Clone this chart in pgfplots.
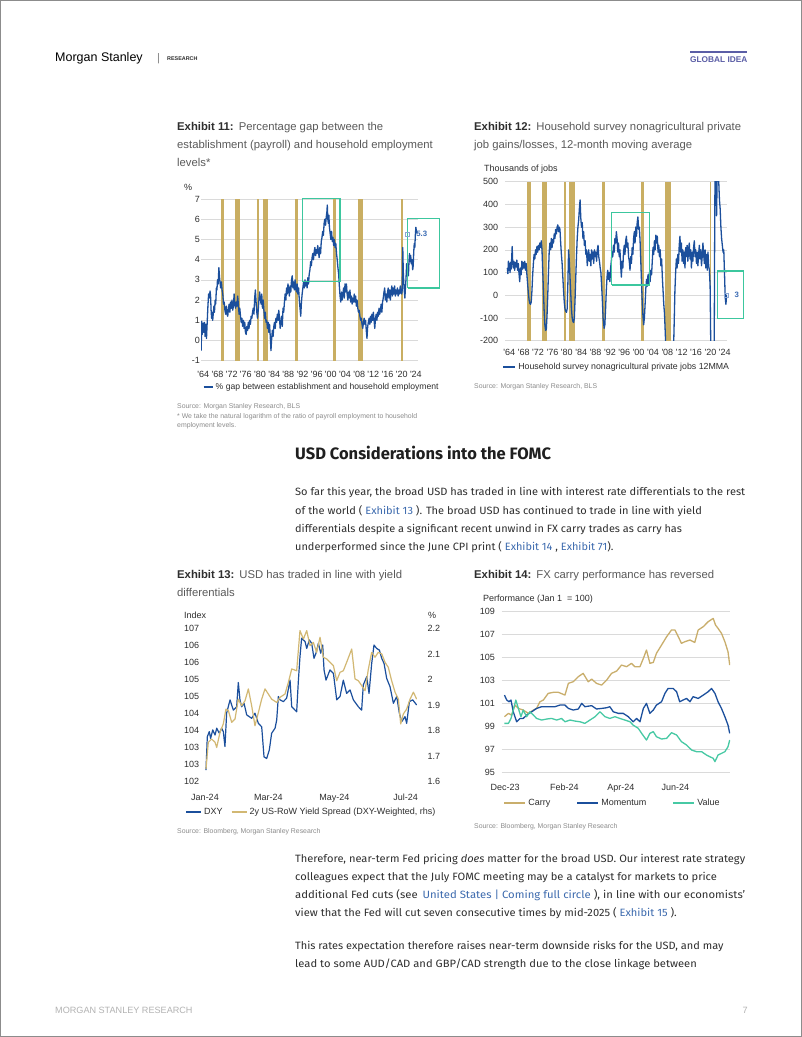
\documentclass[border=0pt]{standalone}
\usepackage{pgfplots}
\pgfplotsset{compat=1.18}
\usepackage{fontspec}
\usepackage{graphicx}
\setmainfont{Fira Sans}
\newfontfamily\cf{Liberation Sans}
\newcommand\fs[1]{\fontsize{#1pt}{#1pt}\selectfont}
\definecolor{msblue}{HTML}{1B4F9C}
\definecolor{msgold}{HTML}{C9AE62}
\definecolor{carry}{HTML}{C9AE6C}
\definecolor{spread}{HTML}{D2B873}
\definecolor{msteal}{HTML}{3CC79E}
\definecolor{valuec}{HTML}{47C9A4}
\definecolor{gridc}{HTML}{DADADA}
\definecolor{txt}{HTML}{2E2E2E}
\definecolor{ttl}{HTML}{5A5A5A}
\definecolor{link}{HTML}{3C6AAE}
\definecolor{src}{HTML}{8C8C8C}
\definecolor{gidea}{HTML}{5B5EA6}
\definecolor{lbl}{HTML}{3D6DB5}
\newcommand\lk[1]{\textcolor{link}{#1}}
\newcommand\fitline[4]{\node[anchor=base west,inner sep=0pt,text=txt,font=\fs{10.6}] at (#1pt,-#2pt) {\resizebox{#3pt}{\height}{#4}};}
\newcommand\ttlnode[4]{\node[anchor=base west,inner sep=0pt,font=\cf\fs{11.3}] at (#1pt,-#2pt) {\textcolor{txt}{\textbf{#3}}\hspace{0.45em}\textcolor{ttl}{#4}};}
\newcommand\ttlcont[3]{\node[anchor=base west,inner sep=0pt,font=\cf\fs{11.3},text=ttl] at (#1pt,-#2pt) {#3};}
\newcommand\srcnode[3]{\node[anchor=base west,inner sep=0pt,font=\cf\fs{6.9},text=src] at (#1pt,-#2pt) {#3};}
\pgfplotsset{
  ms/.style={scale only axis, anchor=south west,
    axis x line*=bottom, axis y line*=left, axis line style={draw=none},
    major tick length=0pt, tick style={draw=none},
    ticklabel style={font=\cf\fs{9}, text=txt, inner sep=0pt},
    xticklabel style={anchor=base}, yticklabel style={anchor=east},
    grid style={draw=gridc, line width=0.6pt},
    legend style={draw=none, fill=none, inner sep=0pt, outer sep=0pt,
      font=\cf\fs{9}, text=txt, anchor=west},
    legend cell align=left},
  ov/.style={scale only axis, anchor=south west, hide axis, clip=false},
}
\begin{document}
\begin{tikzpicture}
\path[use as bounding box] (0,0) rectangle (802pt,-1037pt);
\fill[white] (0,0) rectangle (802pt,-1037pt);
\draw[black!45, line width=0.8pt] (0.4pt,-0.4pt) rectangle (801.6pt,-1036.6pt);
% header
\node[anchor=base west,inner sep=0pt,font=\cf\fs{12.5}] at (55pt,-61.5pt) {Morgan Stanley};
\node[anchor=base west,inner sep=0pt,font=\cf\fs{11},text=black!50] at (157pt,-61.5pt) {|};
\node[anchor=base west,inner sep=0pt,font=\cf\bfseries\fs{5.4},text=txt] at (167pt,-60pt) {RESEARCH};
\draw[gidea, line width=2pt] (690pt,-52pt) -- (747pt,-52pt);
\node[anchor=base west,inner sep=0pt,font=\cf\bfseries\fs{8.3},text=gidea] at (690pt,-62pt) {GLOBAL IDEA};
% footer
\node[anchor=base west,inner sep=0pt,font=\cf\fs{9.1},text=black!30] at (55pt,-1013.5pt) {MORGAN STANLEY RESEARCH};
\node[anchor=base east,inner sep=0pt,font=\cf\fs{9.1},text=black!30] at (748pt,-1013.5pt) {7};
% titles
\ttlnode{177}{130}{Exhibit 11:}{Percentage gap between the}
\ttlcont{177}{148}{establishment (payroll) and household employment}
\ttlcont{177}{166}{levels*}
\ttlnode{474}{130}{Exhibit 12:}{Household survey nonagricultural private}
\ttlcont{474}{148}{job gains/losses, 12-month moving average}
\ttlnode{177}{578}{Exhibit 13:}{USD has traded in line with yield}
\ttlcont{177}{596}{differentials}
\ttlnode{474}{578}{Exhibit 14:}{FX carry performance has reversed}
% sources
\srcnode{177}{408.5}{Source: Morgan Stanley Research, BLS}
\srcnode{177}{418.5}{* We take the natural logarithm of the ratio of payroll employment to household}
\srcnode{177}{427}{employment levels.}
\srcnode{474}{388.5}{Source: Morgan Stanley Research, BLS}
\srcnode{177}{833.5}{Source: Bloomberg, Morgan Stanley Research}
\srcnode{474}{828.5}{Source: Bloomberg, Morgan Stanley Research}
% heading and body
\node[anchor=base west,inner sep=0pt,font=\bfseries\fs{16.5},text=black!88] at (295pt,-459pt) {USD Considerations into the FOMC};
\fitline{295}{495.5}{450}{So far this year, the broad USD has traded in line with interest rate differentials to the rest}
\fitline{295}{514}{406.7}{of the world ( \lk{Exhibit 13} ). The broad USD has continued to trade in line with yield}
\fitline{295}{532}{386.7}{differentials despite a significant recent unwind in FX carry trades as carry has}
\fitline{295}{550.5}{318.3}{underperformed since the June CPI print ( \lk{Exhibit 14} , \lk{Exhibit 71}).}
\fitline{295}{862}{450}{Therefore, near-term Fed pricing \textit{does} matter for the broad USD. Our interest rate strategy}
\fitline{295}{880}{421.7}{colleagues expect that the July FOMC meeting may be a catalyst for markets to price}
\fitline{295}{898}{450}{additional Fed cuts (see \,\lk{United States | Coming full circle} ), in line with our economists'}
\fitline{295}{916.5}{381.7}{view that the Fed will cut seven consecutive times by mid-2025 ( \lk{Exhibit 15} ).}
\fitline{295}{949.5}{428.3}{This rates expectation therefore raises near-term downside risks for the USD, and may}
\fitline{295}{967.5}{401.7}{lead to some AUD/CAD and GBP/CAD strength due to the close linkage between}
% axis label texts
\node[anchor=base west,inner sep=0pt,font=\cf\fs{9},text=txt] at (184pt,-190pt) {\%};
\node[anchor=base west,inner sep=0pt,font=\cf\fs{9},text=txt] at (484pt,-171pt) {Thousands of jobs};
\node[anchor=base west,inner sep=0pt,font=\cf\fs{9},text=txt] at (184pt,-618.5pt) {Index};
\node[anchor=base west,inner sep=0pt,font=\cf\fs{9},text=txt] at (428pt,-618.5pt) {\%};
\node[anchor=base west,inner sep=0pt,font=\cf\fs{9},text=txt] at (483pt,-601pt) {Performance (Jan 1 \ = 100)};

%================ Exhibit 11
\begin{axis}[ms, at={(201pt,-360.7pt)}, width=217pt, height=161.7pt,
  xmin=1963.35, xmax=2024.6, ymin=-1, ymax=7, ymajorgrids,
  ytick={-1,0,1,2,3,4,5,6,7}, yticklabels={-1,0,1,2,3,4,5,6,7},
  yticklabel style={xshift=-1pt},
  xtick={1964,1968,...,2024},
  xticklabels={'64,'68,'72,'76,'80,'84,'88,'92,'96,'00,'04,'08,'12,'16,'20,'24},
  xticklabel style={yshift=-16.9pt},
  legend style={at={(axis description cs:0.008,-0.1645)}, font=\cf\fs{8.6}},
  legend image code/.code={\draw[#1, line width=2pt] (0pt,0pt) -- (9pt,0pt);}]
\fill[msgold] (axis cs:1968.89,-1) rectangle (axis cs:1969.93,7);
\fill[msgold] (axis cs:1972.94,-1) rectangle (axis cs:1974.35,7);
\fill[msgold] (axis cs:1979.24,-1) rectangle (axis cs:1979.80,7);
\fill[msgold] (axis cs:1980.84,-1) rectangle (axis cs:1982.16,7);
\fill[msgold] (axis cs:1989.87,-1) rectangle (axis cs:1990.62,7);
\fill[msgold] (axis cs:2000.69,-1) rectangle (axis cs:2001.44,7);
\fill[msgold] (axis cs:2007.56,-1) rectangle (axis cs:2009.16,7);
\fill[msgold] (axis cs:2019.79,-1) rectangle (axis cs:2020.26,7);
\addplot[msblue, line width=1.3pt, line join=round] table {
1963.4 -0.5
1963.55 0.95
1963.7 0.3
1963.9 0.85
1964.1 0.4
1964.3 0.9
1964.5 0.2
1964.7 0.8
1964.9 0.1
1965.1 0.9
1965.3 1.7
1965.5 2.3
1965.7 2.1
1965.9 2.45
1966.05 2.2
1966.2 1.5
1966.35 1.1
1966.5 1.4
1966.65 1.0
1966.8 1.3
1967.0 1.7
1967.15 1.4
1967.35 2.0
1967.5 1.8
1967.7 2.6
1967.85 2.5
1968.0 3.0
1968.2 2.8
1968.4 3.6
1968.55 3.2
1968.7 2.9
1968.9 2.6
1969.1 2.9
1969.3 2.5
1969.5 2.3
1969.7 1.8
1969.9 1.9
1970.1 1.5
1970.3 1.3
1970.5 1.7
1970.7 1.3
1970.9 1.2
1971.1 1.6
1971.3 1.8
1971.5 1.4
1971.7 1.9
1971.9 1.6
1972.1 2.0
1972.3 1.5
1972.5 1.7
1972.7 2.3
1972.9 1.8
1973.1 1.6
1973.3 1.9
1973.5 1.7
1973.7 2.2
1973.9 1.8
1974.1 1.3
1974.3 1.6
1974.5 1.2
1974.7 0.9
1974.9 1.1
1975.1 0.7
1975.3 1.0
1975.5 0.6
1975.7 0.9
1975.9 0.4
1976.1 0.3
1976.3 0.7
1976.5 0.5
1976.7 0.9
1976.9 0.6
1977.1 1.0
1977.3 0.8
1977.5 1.2
1977.7 1.1
1977.9 1.4
1978.1 1.6
1978.3 1.3
1978.5 2.1
1978.7 2.5
1978.9 1.9
1979.1 1.4
1979.3 1.1
1979.5 1.5
1979.7 2.0
1979.9 2.4
1980.1 2.1
1980.3 1.8
1980.5 2.3
1980.7 1.6
1980.9 2.0
1981.1 1.5
1981.3 1.1
1981.5 1.4
1981.7 0.9
1981.9 1.0
1982.1 0.6
1982.3 0.9
1982.5 0.4
1982.7 0.8
1982.9 0.2
1983.1 -0.5
1983.3 0.1
1983.5 0.5
1983.7 0.2
1983.9 0.7
1984.1 0.9
1984.3 0.6
1984.5 1.1
1984.7 0.9
1984.9 1.3
1985.1 1.0
1985.3 1.5
1985.5 1.1
1985.7 0.6
1985.9 0.9
1986.1 1.2
1986.3 0.7
1986.5 1.6
1986.7 1.4
1986.9 1.9
1987.1 2.3
1987.3 2.0
1987.5 2.6
1987.7 2.3
1987.9 2.8
1988.1 2.5
1988.3 2.2
1988.5 2.7
1988.7 2.4
1988.9 3.0
1989.1 3.2
1989.3 2.6
1989.5 2.9
1989.7 2.5
1989.9 3.0
1990.1 2.6
1990.3 2.4
1990.5 2.8
1990.7 2.3
1990.9 2.6
1991.1 2.0
1991.3 1.6
1991.5 1.2
1991.7 1.9
1991.9 2.3
1992.1 2.6
1992.3 2.9
1992.5 2.6
1992.7 3.0
1992.9 2.7
1993.1 2.9
1993.3 2.6
1993.5 3.1
1993.7 2.8
1993.9 3.3
1994.1 3.5
1994.3 3.9
1994.5 3.7
1994.7 4.1
1994.9 4.3
1995.1 4.0
1995.3 4.4
1995.5 4.6
1995.7 4.2
1995.9 4.5
1996.1 4.3
1996.3 4.7
1996.5 4.4
1996.7 4.1
1996.9 4.6
1997.1 4.3
1997.3 4.9
1997.5 5.1
1997.7 5.4
1997.9 5.2
1998.1 5.8
1998.3 6.0
1998.5 5.7
1998.7 6.1
1998.9 6.4
1999.0 6.7
1999.15 6.0
1999.3 5.8
1999.45 6.2
1999.6 5.6
1999.8 5.3
2000.0 5.0
2000.2 5.4
2000.4 4.9
2000.6 5.1
2000.8 4.7
2001.0 5.0
2001.2 4.6
2001.4 4.8
2001.6 4.3
2001.8 4.0
2002.0 3.6
2002.2 3.3
2002.4 2.7
2002.6 2.2
2002.8 1.9
2003.0 2.4
2003.2 2.0
2003.4 2.3
2003.6 2.6
2003.8 2.1
2004.0 2.8
2004.2 2.4
2004.4 2.8
2004.6 2.3
2004.8 2.0
2005.0 2.4
2005.2 2.1
2005.4 2.5
2005.6 1.9
2005.8 2.2
2006.0 1.8
2006.2 2.1
2006.4 1.9
2006.6 2.3
2006.8 1.9
2007.0 2.2
2007.2 1.7
2007.4 2.0
2007.6 1.6
2007.8 1.4
2008.0 1.5
2008.2 1.2
2008.4 1.0
2008.6 1.1
2008.8 0.8
2009.0 0.6
2009.2 0.9
2009.4 1.1
2009.6 0.8
2009.8 1.0
2010.0 0.5
2010.2 0.1
2010.4 0.7
2010.6 0.9
2010.8 1.1
2011.0 0.8
2011.2 1.2
2011.4 0.9
2011.6 1.3
2011.8 1.0
2012.0 1.4
2012.2 1.0
2012.4 0.6
2012.6 1.1
2012.8 1.3
2013.0 1.0
2013.2 1.4
2013.4 1.2
2013.6 1.6
2013.8 1.3
2014.0 1.5
2014.2 1.8
2014.4 1.4
2014.6 1.9
2014.8 2.1
2015.0 2.4
2015.2 2.6
2015.4 2.0
2015.6 2.3
2015.8 1.9
2016.0 2.4
2016.2 2.6
2016.4 2.1
2016.6 2.5
2016.8 2.0
2017.0 2.4
2017.2 2.7
2017.4 2.2
2017.6 2.6
2017.8 2.3
2018.0 2.7
2018.2 2.2
2018.4 2.5
2018.6 2.3
2018.8 2.6
2019.0 2.2
2019.2 2.5
2019.4 2.3
2019.6 2.7
2019.8 2.4
2020.0 2.3
2020.15 2.5
2020.3 4.6
2020.45 3.4
2020.6 2.8
2020.75 2.4
2020.9 2.1
2021.05 2.6
2021.2 3.0
2021.4 3.8
2021.55 3.3
2021.7 3.6
2021.9 3.2
2022.05 3.9
2022.2 4.3
2022.4 3.9
2022.55 4.2
2022.7 3.8
2022.9 4.0
2023.1 3.5
2023.25 3.7
2023.4 4.4
2023.55 4.8
2023.7 4.6
2023.85 5.2
2024.0 5.6
2024.15 5.4
2024.3 5.3
};
\addlegendentry{\% gap between establishment and household employment}
\end{axis}
\begin{axis}[ov, at={(201pt,-360.7pt)}, width=217pt, height=161.7pt,
  xmin=1963.35, xmax=2024.6, ymin=-1, ymax=7]
\addplot[msteal, line width=1.2pt] coordinates {(1991.94,2.93) (2002.57,2.93) (2002.57,7.02) (1991.94,7.02) (1991.94,2.93)};
\addplot[msteal, line width=1.2pt] coordinates {(2021.67,2.6) (2030.6,2.6) (2030.6,6.02) (2021.67,6.02) (2021.67,2.6)};
\addplot[only marks, mark=square, mark size=2pt, mark options={draw=lbl!60, line width=0.5pt}] coordinates {(2021.55,5.27)}
  node[anchor=west, font=\cf\bfseries\fs{7.8}, text=lbl, inner sep=0pt, xshift=9pt] {5.3};
\end{axis}

%================ Exhibit 12
\begin{axis}[ms, at={(505pt,-340.7pt)}, width=222pt, height=159pt,
  xmin=1962.8, xmax=2024.6, ymin=-200, ymax=500, ymajorgrids,
  ytick={-200,-100,0,100,200,300,400,500}, yticklabels={-200,-100,0,100,200,300,400,500},
  yticklabel style={xshift=-6.7pt},
  xtick={1964,1968,...,2024},
  xticklabels={'64,'68,'72,'76,'80,'84,'88,'92,'96,'00,'04,'08,'12,'16,'20,'24},
  xticklabel style={yshift=-14.3pt},
  legend style={at={(axis description cs:-0.012,-0.167)}, font=\cf\fs{8.8}},
  legend image code/.code={\draw[#1, line width=2pt] (0pt,0pt) -- (12pt,0pt);}]
\fill[msgold] (axis cs:1969.0,-200) rectangle (axis cs:1970.0,500);
\fill[msgold] (axis cs:1973.0,-200) rectangle (axis cs:1974.4,500);
\fill[msgold] (axis cs:1979.2,-200) rectangle (axis cs:1979.8,500);
\fill[msgold] (axis cs:1980.7,-200) rectangle (axis cs:1982.2,500);
\fill[msgold] (axis cs:1989.9,-200) rectangle (axis cs:1990.6,500);
\fill[msgold] (axis cs:2000.6,-200) rectangle (axis cs:2001.5,500);
\fill[msgold] (axis cs:2007.3,-200) rectangle (axis cs:2009.0,500);
\fill[msgold] (axis cs:2019.8,-200) rectangle (axis cs:2020.2,500);
\addplot[msblue, line width=1.3pt, line join=round] table {
1963.45 120
1963.6 95
1963.75 150
1963.9 110
1964.05 140
1964.2 100
1964.35 145
1964.5 115
1964.65 160
1964.8 215
1964.95 140
1965.1 120
1965.3 150
1965.5 110
1965.7 145
1965.9 125
1966.1 155
1966.3 110
1966.5 140
1966.7 95
1966.9 60
1967.1 120
1967.3 90
1967.5 150
1967.7 115
1967.9 145
1968.1 120
1968.3 150
1968.5 110
1968.7 140
1968.9 90
1969.1 50
1969.3 10
1969.5 -20
1969.7 -35
1969.9 -40
1970.1 -30
1970.3 20
1970.5 90
1970.7 140
1970.9 180
1971.1 160
1971.3 200
1971.5 180
1971.7 215
1971.9 190
1972.1 220
1972.3 200
1972.5 230
1972.7 210
1972.9 240
1973.1 200
1973.3 110
1973.5 20
1973.7 -70
1973.9 -130
1974.1 -155
1974.3 -150
1974.5 -90
1974.7 0
1974.9 100
1975.1 190
1975.3 230
1975.5 200
1975.7 250
1975.9 210
1976.1 245
1976.3 230
1976.5 270
1976.7 250
1976.9 290
1977.1 270
1977.3 300
1977.5 310
1977.7 280
1977.9 300
1978.1 290
1978.3 230
1978.5 180
1978.7 140
1978.9 80
1979.1 20
1979.3 -30
1979.5 -60
1979.7 -70
1979.9 -75
1980.1 -60
1980.3 50
1980.5 200
1980.7 150
1980.9 80
1981.1 10
1981.3 -60
1981.5 -100
1981.7 -115
1981.9 -120
1982.1 -100
1982.3 -20
1982.5 80
1982.7 170
1982.9 250
1983.1 300
1983.3 330
1983.5 380
1983.7 420
1983.9 340
1984.1 300
1984.3 320
1984.5 250
1984.7 280
1984.9 220
1985.1 240
1985.3 180
1985.5 200
1985.7 130
1985.9 170
1986.1 200
1986.3 150
1986.5 180
1986.7 130
1986.9 200
1987.1 160
1987.3 190
1987.5 140
1987.7 200
1987.9 170
1988.1 190
1988.3 150
1988.5 200
1988.7 220
1988.9 170
1989.1 150
1989.3 120
1989.5 100
1989.7 40
1989.9 -20
1990.1 -100
1990.4 -145
1990.6 -130
1990.8 -60
1991.0 20
1991.2 80
1991.4 110
1991.6 70
1991.8 100
1992.0 60
1992.2 120
1992.4 150
1992.6 190
1992.8 170
1993.0 220
1993.2 190
1993.4 250
1993.6 230
1993.8 280
1994.0 250
1994.2 190
1994.4 230
1994.6 170
1994.8 200
1995.0 130
1995.2 80
1995.4 150
1995.6 120
1995.8 190
1996.0 220
1996.2 180
1996.4 240
1996.6 260
1996.8 210
1997.0 230
1997.2 170
1997.4 150
1997.6 110
1997.8 170
1998.0 140
1998.2 210
1998.4 180
1998.6 250
1998.8 280
1999.0 230
1999.2 300
1999.4 260
1999.6 320
1999.8 345
2000.0 290
2000.2 300
2000.4 240
2000.6 150
2000.8 60
2001.0 -30
2001.2 -90
2001.4 -130
2001.6 -100
2001.8 -40
2002.0 30
2002.2 70
2002.4 40
2002.6 90
2002.8 50
2003.0 100
2003.2 60
2003.4 110
2003.6 90
2003.8 150
2004.0 210
2004.2 180
2004.4 240
2004.6 200
2004.8 265
2005.0 230
2005.2 260
2005.4 190
2005.6 220
2005.8 170
2006.0 200
2006.2 130
2006.4 160
2006.6 80
2006.8 20
2007.0 -40
2007.2 -80
2007.4 -160
2007.6 -240
2007.8 -350
2008.2 -480
2008.6 -600
2009.0 -550
2009.4 -400
2009.7 -250
2009.9 -120
2010.1 20
2010.3 100
2010.5 160
2010.7 120
2010.9 180
2011.1 140
2011.3 220
2011.5 260
2011.7 190
2011.9 230
2012.1 150
2012.3 200
2012.5 140
2012.7 190
2012.9 120
2013.1 210
2013.3 170
2013.5 220
2013.7 150
2013.9 200
2014.1 230
2014.3 160
2014.5 200
2014.7 120
2014.9 190
2015.1 150
2015.3 210
2015.5 240
2015.7 170
2015.9 200
2016.1 140
2016.3 190
2016.5 130
2016.7 180
2016.9 220
2017.1 160
2017.3 200
2017.5 130
2017.7 170
2017.9 230
2018.1 180
2018.3 140
2018.5 200
2018.7 120
2018.9 180
2019.1 110
2019.3 190
2019.5 130
2019.7 110
2019.9 40
2020.1 -250
2020.3 -900
2020.5 -1300
2020.8 -1100
2021.0 -400
2021.15 200
2021.3 650
2021.5 520
2021.7 350
2021.9 560
2022.1 620
2022.3 500
2022.5 420
2022.7 380
2022.9 300
2023.1 250
2023.3 220
2023.5 190
2023.7 200
2023.9 100
2024.1 -10
2024.3 -40
2024.5 3
};
\addlegendentry{Household survey nonagricultural private jobs 12MMA}
\end{axis}
\begin{axis}[ov, at={(505pt,-340.7pt)}, width=222pt, height=159pt,
  xmin=1962.8, xmax=2024.6, ymin=-200, ymax=500]
\addplot[msteal, line width=1.2pt] coordinates {(1992.5,45) (2003.1,45) (2003.1,363) (1992.5,363) (1992.5,45)};
\addplot[msteal, line width=1.2pt] coordinates {(2021.9,-101) (2029.3,-101) (2029.3,107) (2021.9,107) (2021.9,-101)};
\addplot[only marks, mark=square, mark size=2pt, mark options={draw=lbl!60, line width=0.5pt}] coordinates {(2024.3,1)}
  node[anchor=west, font=\cf\bfseries\fs{7.8}, text=lbl, inner sep=0pt, xshift=8.5pt] {3};
\end{axis}

%================ Exhibit 13
\begin{axis}[ms, at={(205pt,-781.7pt)}, width=211.8pt, height=153.4pt,
  xmin=0, xmax=192, ymin=102.5, ymax=107,
  ytick={102.5,103,103.5,104,104.5,105,105.5,106,106.5,107},
  yticklabels={102,103,103,104,104,105,105,106,106,107},
  yticklabel style={xshift=-5.7pt},
  xtick={0,57.4,117.3,181.9}, xticklabels={Jan-24,Mar-24,May-24,Jul-24},
  xticklabel style={yshift=-18.3pt}]
\addplot[msblue, line width=1.2pt, line join=round] table {
0.9 102.84
2.1 103.82
3.9 103.97
5.1 103.77
7.0 104.02
9.1 103.87
10.6 104.07
13.0 103.92
15.1 104.07
16.6 103.97
18.1 103.53
19.6 104.51
22.7 104.90
25.7 104.60
28.7 104.70
30.2 105.41
31.7 104.90
33.2 104.70
35.4 104.80
37.8 104.46
42.3 104.36
45.3 104.51
48.4 104.21
51.4 104.11
53.5 103.23
55.9 103.18
58.3 103.43
60.4 103.92
63.5 104.07
65.0 104.31
66.5 105.00
68.0 104.90
71.0 104.85
74.0 104.95
77.1 105.48
78.6 104.70
80.1 104.65
83.1 104.55
84.6 105.44
86.1 106.17
87.6 106.71
90.7 106.61
92.2 106.41
94.6 106.66
96.7 106.56
98.8 106.12
100.6 106.27
102.8 106.56
104.9 106.27
106.7 106.51
107.9 105.78
109.7 105.48
113.3 105.78
116.4 105.68
119.4 104.90
122.4 105.00
125.4 105.48
128.4 105.09
131.5 105.19
134.5 104.90
139.0 104.70
142.0 104.60
143.5 105.34
146.6 105.58
148.7 105.09
151.1 105.97
153.2 106.51
155.6 106.41
158.1 106.36
160.2 106.12
162.3 105.97
164.7 105.53
167.7 105.29
170.8 104.80
173.8 105.00
176.2 104.51
178.3 104.26
181.3 104.41
182.8 104.21
185.3 104.85
188.3 104.90
191.9 104.75
};
\end{axis}
\begin{axis}[ms, at={(205pt,-781.7pt)}, width=211.8pt, height=153.4pt,
  axis y line*=right, axis x line=none,
  xmin=0, xmax=192, ymin=1.6, ymax=2.2,
  ytick={1.6,1.7,1.8,1.9,2.0,2.1,2.2}, yticklabels={1.6,1.7,1.8,1.9,2,2.1,2.2},
  yticklabel style={anchor=west, xshift=10.5pt},
  legend columns=2,
  legend style={at={(axis description cs:-0.094,-0.1956)},
    /tikz/every even column/.append style={column sep=6pt}},
  legend image code/.code={\draw[#1, line width=2pt] (0pt,0pt) -- (15pt,0pt);}]
\addlegendimage{msblue, line width=1.2pt}
\addlegendentry{DXY}
\addplot[spread, line width=1.2pt, line join=round] table {
0.9 1.650
3.0 1.754
6.0 1.767
9.1 1.754
10.6 1.734
13.6 1.793
16.6 1.826
19.0 1.884
21.2 1.878
24.2 1.832
27.2 1.845
30.2 1.923
33.2 1.897
36.3 1.917
39.3 1.963
42.3 1.897
45.3 1.819
48.4 1.871
51.4 1.923
54.4 1.963
57.4 1.943
60.4 1.923
65.0 1.910
68.0 1.930
72.5 1.943
75.6 1.989
78.6 2.041
83.1 2.034
86.1 2.191
89.2 2.158
92.2 2.191
95.2 2.132
98.2 2.145
101.2 2.106
104.3 2.165
107.3 2.087
110.3 2.080
113.3 2.067
116.4 2.054
119.4 1.995
122.4 2.028
125.4 2.034
128.4 2.067
133.0 2.119
136.0 2.002
139.0 1.995
142.0 1.976
145.1 1.956
148.1 2.041
151.1 2.106
154.1 2.087
157.1 2.106
160.2 2.100
163.2 2.067
166.2 2.047
169.2 1.995
172.3 1.950
175.3 1.923
177.4 1.826
179.8 1.865
182.8 1.884
185.9 1.923
188.9 1.950
191.9 1.923
};
\addlegendentry{2y US-RoW Yield Spread (DXY-Weighted, rhs)}
\end{axis}

%================ Exhibit 14
\begin{axis}[ms, at={(501.7pt,-772.7pt)}, width=228.3pt, height=161pt,
  xmin=-0.117, xmax=7.92, ymin=95, ymax=109, ymajorgrids,
  ytick={95,97,99,101,103,105,107,109}, yticklabels={95,97,99,101,103,105,107,109},
  yticklabel style={xshift=-6.7pt},
  xtick={0,2.09,4.08,6}, xticklabels={Dec-23,Feb-24,Apr-24,Jun-24},
  xticklabel style={yshift=-17.3pt},
  legend columns=3,
  legend style={at={(axis description cs:0.007,-0.188)},
    /tikz/every even column/.append style={column sep=24pt}},
  legend image code/.code={\draw[#1, line width=2pt] (0pt,0pt) -- (21pt,0pt);}]
\addplot[carry, line width=1.3pt, line join=round] table {
-0.02 99.87
0.12 100.16
0.23 100.01
0.35 100.88
0.47 100.59
0.64 100.45
0.82 100.16
1.00 100.45
1.11 100.59
1.23 101.17
1.35 101.32
1.52 101.90
1.70 101.99
1.88 101.99
2.11 101.75
2.23 102.77
2.40 102.91
2.58 103.35
2.75 103.64
2.93 102.91
3.05 103.14
3.22 102.77
3.40 102.62
3.58 103.06
3.75 103.64
3.93 103.84
4.10 104.36
4.28 104.22
4.45 104.51
4.57 104.22
4.75 104.22
4.87 104.94
4.98 105.67
5.10 104.51
5.22 104.59
5.33 105.38
5.51 106.10
5.69 106.83
5.86 107.41
5.98 107.41
6.10 106.83
6.21 106.25
6.33 106.39
6.51 106.54
6.68 106.33
6.80 107.41
6.98 107.70
7.15 108.13
7.33 108.42
7.41 107.84
7.50 107.55
7.62 107.12
7.74 106.39
7.85 105.52
7.91 104.36
};
\addlegendentry{Carry}
\addplot[msblue, line width=1.3pt, line join=round] table {
-0.02 101.75
0.06 101.32
0.14 101.17
0.21 101.32
0.29 100.30
0.41 99.43
0.53 99.72
0.64 99.72
0.76 100.01
0.94 100.30
1.11 100.59
1.29 100.74
1.52 100.74
1.76 100.74
1.93 100.88
2.11 100.88
2.23 100.59
2.40 100.45
2.58 100.54
2.70 101.03
2.81 100.74
3.05 100.83
3.22 100.54
3.40 100.59
3.58 100.65
3.69 100.74
3.81 100.30
3.99 100.16
4.16 100.16
4.34 99.87
4.51 99.43
4.63 99.72
4.75 99.43
4.87 100.59
4.98 101.03
5.10 100.16
5.22 100.45
5.33 100.88
5.51 101.17
5.63 101.90
5.74 102.33
5.92 102.33
6.04 102.04
6.15 101.17
6.27 101.32
6.39 101.46
6.51 101.17
6.62 101.61
6.80 101.46
6.98 101.75
7.15 102.04
7.27 102.33
7.39 101.90
7.50 101.17
7.62 100.59
7.74 99.87
7.85 99.14
7.91 98.42
};
\addlegendentry{Momentum}
\addplot[valuec, line width=1.3pt, line join=round] table {
-0.02 99.29
0.12 99.29
0.21 99.72
0.29 100.45
0.38 101.32
0.47 100.59
0.56 99.87
0.64 100.45
0.76 99.87
0.88 100.30
1.00 100.01
1.11 99.72
1.29 99.58
1.47 99.67
1.64 99.72
1.82 99.58
1.99 99.72
2.11 99.43
2.29 99.58
2.46 99.49
2.64 99.43
2.81 99.29
2.99 99.58
3.17 99.87
3.34 100.30
3.52 99.87
3.69 99.72
3.87 99.87
4.04 99.72
4.22 99.58
4.40 99.43
4.51 99.14
4.69 98.86
4.81 98.42
4.98 97.84
5.10 98.42
5.22 98.57
5.33 98.13
5.51 97.93
5.69 97.99
5.86 98.48
6.04 98.28
6.21 97.70
6.39 97.41
6.57 96.97
6.74 96.83
6.92 96.83
7.09 96.54
7.21 96.39
7.33 96.25
7.39 95.96
7.50 96.54
7.62 96.68
7.74 96.83
7.85 97.26
7.91 97.84
};
\addlegendentry{Value}
\end{axis}
\end{tikzpicture}
\end{document}
